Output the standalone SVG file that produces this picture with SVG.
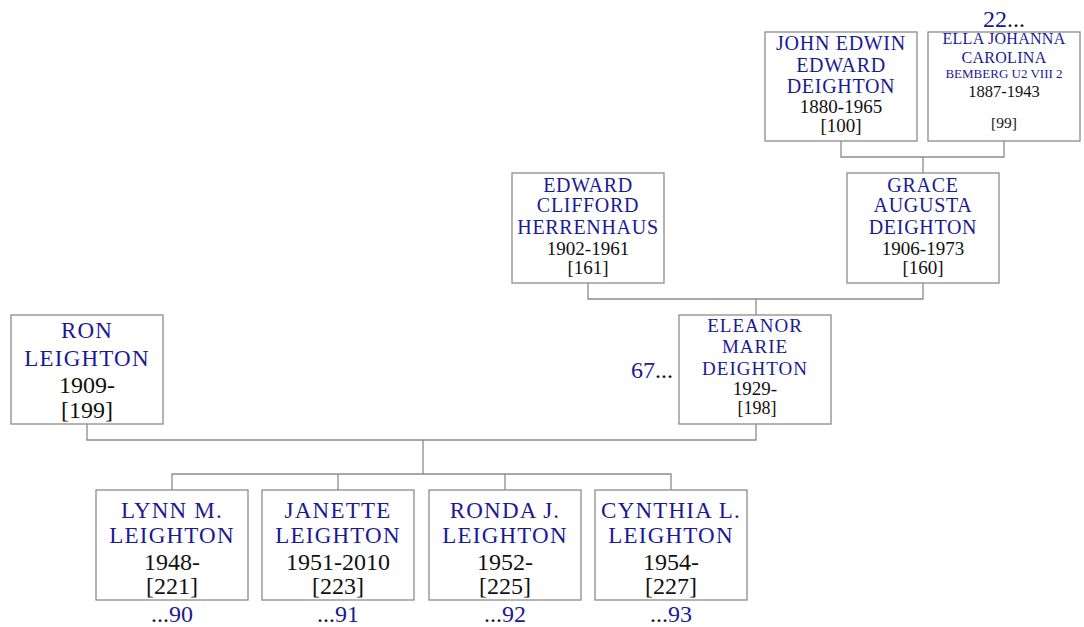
<svg xmlns="http://www.w3.org/2000/svg" width="1084" height="627" viewBox="0 0 1084 627">
<style>
rect.box{fill:#fff;stroke:#8c8c8c;stroke-width:1.3}
.con path{fill:none;stroke:#8c8c8c;stroke-width:1.3}
text{font-family:"Liberation Serif","Times New Roman",serif;text-anchor:middle}
.nm{fill:#1a1a93;font-size:20px;letter-spacing:0.7px}
.dt{fill:#111;font-size:19px}
.nmL{fill:#1a1a93;font-size:23px;letter-spacing:1.2px}
.dtL{fill:#111;font-size:24px}
.blue{fill:#1a1a93}
.more{fill:#111;font-size:24px}
</style>
<rect width="1084" height="627" fill="#fff"/>
<g class="con">
<path d="M841 141V157H1004V141M923 157V173"/>
<path d="M588 283V299H923V283M756 299V315"/>
<path d="M87 424V440H756V424M423 440V474"/>
<path d="M172 490V474H671V490M338 474V490M505 474V490"/>
</g>
<g id="john">
<rect class="box" x="765" y="32" width="152" height="109"/>
<text class="nm" x="841" y="50">JOHN EDWIN</text>
<text class="nm" x="841" y="72">EDWARD</text>
<text class="nm" x="841" y="93">DEIGHTON</text>
<text class="dt" x="841" y="112.5">1880-1965</text>
<text class="dt" x="841" y="131.5">[100]</text>
</g>
<g id="ella">
<text class="more" x="1004" y="27"><tspan class="blue">22</tspan>...</text>
<rect class="box" x="928" y="32" width="152" height="109"/>
<text class="nm" x="1004" y="44" style="font-size:16px;letter-spacing:0.3px">ELLA JOHANNA</text>
<text class="nm" x="1004" y="63" style="font-size:16px;letter-spacing:0.3px">CAROLINA</text>
<text class="nm" x="1004" y="78" style="font-size:13px;letter-spacing:0px">BEMBERG U2 VIII 2</text>
<text class="dt" x="1004" y="97" style="font-size:16.5px">1887-1943</text>
<text class="dt" x="1004" y="128" style="font-size:15.5px">[99]</text>
</g>
<g id="edward">
<rect class="box" x="512" y="173" width="152" height="110"/>
<text class="nm" x="588" y="192">EDWARD</text>
<text class="nm" x="588" y="212">CLIFFORD</text>
<text class="nm" x="588" y="234">HERRENHAUS</text>
<text class="dt" x="588" y="254.5">1902-1961</text>
<text class="dt" x="588" y="273.5">[161]</text>
</g>
<g id="grace">
<rect class="box" x="847" y="173" width="152" height="110"/>
<text class="nm" x="923" y="192">GRACE</text>
<text class="nm" x="923" y="212">AUGUSTA</text>
<text class="nm" x="923" y="234">DEIGHTON</text>
<text class="dt" x="923" y="254.5">1906-1973</text>
<text class="dt" x="923" y="273.5">[160]</text>
</g>
<g id="eleanor">
<text class="more" x="673" y="378" style="text-anchor:end"><tspan class="blue">67</tspan>...</text>
<rect class="box" x="679" y="315" width="152" height="109"/>
<text class="nm" x="755" y="332" style="font-size:19px;letter-spacing:1px">ELEANOR</text>
<text class="nm" x="755" y="353" style="font-size:19px;letter-spacing:1px">MARIE</text>
<text class="nm" x="755" y="375" style="font-size:19px;letter-spacing:1px">DEIGHTON</text>
<text class="dt" x="755" y="395" style="font-size:19px">1929-</text>
<text class="dt" x="757" y="414" style="font-size:18px">[198]</text>
</g>
<g id="ron">
<rect class="box" x="11" y="315" width="152" height="109"/>
<text class="nmL" x="87" y="338">RON</text>
<text class="nmL" x="87" y="366">LEIGHTON</text>
<text class="dtL" x="87" y="393">1909-</text>
<text class="dtL" x="87" y="418">[199]</text>
</g>
<g id="lynn">
<rect class="box" x="96" y="490" width="152" height="110"/>
<text class="nmL" x="172" y="518">LYNN M.</text>
<text class="nmL" x="172" y="543">LEIGHTON</text>
<text class="dtL" x="172" y="570">1948-</text>
<text class="dtL" x="172" y="594">[221]</text>
<text class="more" x="172" y="622">...<tspan class="blue">90</tspan></text>
</g>
<g id="janette">
<rect class="box" x="262" y="490" width="152" height="110"/>
<text class="nmL" x="338" y="518">JANETTE</text>
<text class="nmL" x="338" y="543">LEIGHTON</text>
<text class="dtL" x="338" y="570">1951-2010</text>
<text class="dtL" x="338" y="594">[223]</text>
<text class="more" x="338" y="622">...<tspan class="blue">91</tspan></text>
</g>
<g id="ronda">
<rect class="box" x="429" y="490" width="152" height="110"/>
<text class="nmL" x="505" y="518">RONDA J.</text>
<text class="nmL" x="505" y="543">LEIGHTON</text>
<text class="dtL" x="505" y="570">1952-</text>
<text class="dtL" x="505" y="594">[225]</text>
<text class="more" x="505" y="622">...<tspan class="blue">92</tspan></text>
</g>
<g id="cynthia">
<rect class="box" x="595" y="490" width="152" height="110"/>
<text class="nmL" x="671" y="518">CYNTHIA L.</text>
<text class="nmL" x="671" y="543">LEIGHTON</text>
<text class="dtL" x="671" y="570">1954-</text>
<text class="dtL" x="671" y="594">[227]</text>
<text class="more" x="671" y="622">...<tspan class="blue">93</tspan></text>
</g>
</svg>
